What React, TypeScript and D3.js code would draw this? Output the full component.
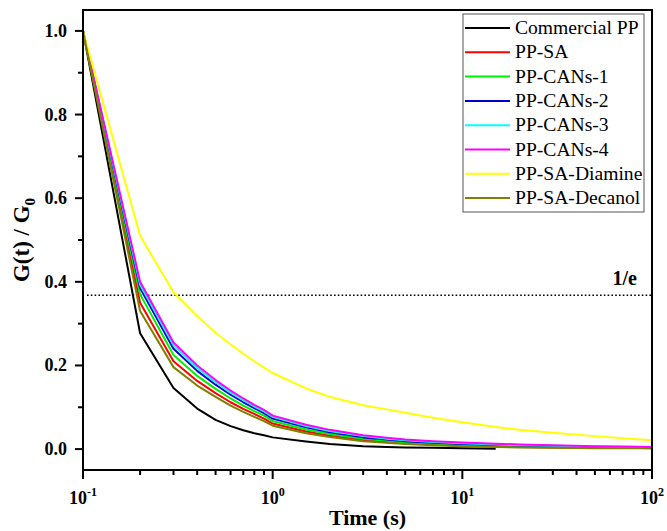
import React from "react";
import * as d3 from "d3";

const times = [0.1, 0.2, 0.3, 0.4, 0.5, 0.6, 0.7, 0.8, 0.9, 1, 1.5, 2, 3, 4, 5, 7, 10, 15, 20, 30, 50, 70, 100];

const seriesNames = ["Commercial PP", "PP-SA", "PP-CANs-1", "PP-CANs-2", "PP-CANs-3", "PP-CANs-4", "PP-SA-Diamine", "PP-SA-Decanol"];
const seriesColors = ["#000000", "#ff0000", "#00ee00", "#0000cc", "#00ffff", "#ff00ff", "#ffff00", "#808000"];

const commercialPP = [1, 0.277, 0.146, 0.097, 0.07, 0.055, 0.045, 0.038, 0.033, 0.028, 0.018, 0.012, 0.007, 0.005, 0.004, 0.003, 0.002, 0.001];
const ppSA = [1, 0.35, 0.21, 0.163, 0.134, 0.112, 0.096, 0.084, 0.073, 0.061, 0.042, 0.032, 0.022, 0.017, 0.014, 0.011, 0.008, 0.006, 0.005, 0.004, 0.003, 0.003, 0.002];
const ppCANs1 = [1, 0.37, 0.225, 0.175, 0.144, 0.121, 0.104, 0.091, 0.08, 0.067, 0.047, 0.036, 0.025, 0.02, 0.016, 0.013, 0.01, 0.008, 0.007, 0.006, 0.004, 0.004, 0.003];
const ppCANs2 = [1, 0.385, 0.24, 0.187, 0.154, 0.13, 0.112, 0.098, 0.086, 0.073, 0.052, 0.04, 0.028, 0.023, 0.019, 0.015, 0.012, 0.01, 0.008, 0.007, 0.005, 0.004, 0.004];
const ppCANs3 = [1, 0.393, 0.248, 0.194, 0.16, 0.135, 0.117, 0.102, 0.09, 0.077, 0.055, 0.043, 0.031, 0.025, 0.021, 0.017, 0.014, 0.011, 0.009, 0.008, 0.006, 0.005, 0.004];
const ppCANs4 = [1, 0.4, 0.255, 0.2, 0.165, 0.14, 0.121, 0.106, 0.094, 0.08, 0.058, 0.046, 0.033, 0.027, 0.023, 0.019, 0.016, 0.013, 0.011, 0.009, 0.007, 0.006, 0.005];
const ppSADiamine = [1, 0.51, 0.375, 0.318, 0.278, 0.25, 0.228, 0.21, 0.195, 0.182, 0.145, 0.125, 0.105, 0.095, 0.087, 0.075, 0.064, 0.053, 0.046, 0.039, 0.031, 0.026, 0.021];
const ppSADecanol = [1, 0.33, 0.196, 0.152, 0.125, 0.104, 0.089, 0.077, 0.067, 0.056, 0.038, 0.029, 0.019, 0.015, 0.012, 0.009, 0.007, 0.005, 0.004, 0.003, 0.002, 0.002, 0.002];

const seriesValues = [commercialPP, ppSA, ppCANs1, ppCANs2, ppCANs3, ppCANs4, ppSADiamine, ppSADecanol];

const yMajorTicks = [0, 0.2, 0.4, 0.6, 0.8, 1.0];
const yMinorTicks = [0.1, 0.3, 0.5, 0.7, 0.9];
const xMajorTicks = [0.1, 1, 10, 100];
const xMajorExp = ["-1", "0", "1", "2"];
const invE = 1 / Math.E;

const W = 667, H = 531;
const L = 83, R = 652, T = 10, B = 470;
const FONT = "'Liberation Serif', 'Times New Roman', serif";

export default function App() {
  const x = d3.scaleLog().domain([0.1, 100]).range([L, R]);
  const y = d3.scaleLinear().domain([-0.05, 1.05]).range([B, T]);
  const line = d3.line<[number, number]>().x(d => x(d[0])).y(d => y(d[1]));

  const xMinor: number[] = [];
  [0.1, 1, 10].forEach(dec => { for (let k = 2; k <= 9; k++) xMinor.push(dec * k); });

  const legendTop = 14, legendRow = 24.3;

  return (
    <svg width={W} height={H} style={{ position: "absolute", left: 0, top: 0, background: "#fff" }} fontFamily={FONT}>
      <rect x={0} y={0} width={W} height={H} fill="#fff" />
      <defs>
        <clipPath id="plot"><rect x={L} y={T} width={R - L} height={B - T} /></clipPath>
      </defs>
      {/* 1/e line */}
      <line x1={L + 4} x2={R} y1={y(invE)} y2={y(invE)} stroke="#000" strokeWidth={1.6} strokeDasharray="1.6,2.2" />
      <text x={637} y={285} textAnchor="end" fontSize={20} fontWeight="bold">1/e</text>
      {/* series */}
      <g clipPath="url(#plot)">
        {seriesValues.map((vals, i) => (
          <path key={i} d={line(vals.map((v, j) => [times[j], v] as [number, number])) || ""} fill="none" stroke={seriesColors[i]} strokeWidth={2} strokeLinejoin="round" />
        ))}
      </g>
      {/* frame */}
      <rect x={L} y={T} width={R - L} height={B - T} fill="none" stroke="#000" strokeWidth={2} />
      {/* y ticks */}
      {yMajorTicks.map(v => (
        <g key={"ym" + v}>
          <line x1={L - 8} x2={L} y1={y(v)} y2={y(v)} stroke="#000" strokeWidth={2} />
          <text x={67} y={y(v) + 6} textAnchor="end" fontSize={18} fontWeight="bold">{v.toFixed(1)}</text>
        </g>
      ))}
      {yMinorTicks.map(v => (
        <line key={"yn" + v} x1={L - 5} x2={L} y1={y(v)} y2={y(v)} stroke="#000" strokeWidth={2} />
      ))}
      {/* x ticks */}
      {xMajorTicks.map((v, i) => (
        <g key={"xm" + v}>
          <line x1={x(v)} x2={x(v)} y1={B} y2={B + 9} stroke="#000" strokeWidth={2} />
          <text x={x(v)} y={504} textAnchor="middle" fontSize={18} fontWeight="bold">
            10<tspan fontSize={12} dy={-8}>{xMajorExp[i]}</tspan>
          </text>
        </g>
      ))}
      {xMinor.map(v => (
        <line key={"xn" + v} x1={x(v)} x2={x(v)} y1={B} y2={B + 5} stroke="#000" strokeWidth={2} />
      ))}
      {/* axis titles */}
      <text x={(L + R) / 2} y={525} textAnchor="middle" fontSize={22} fontWeight="bold">Time (s)</text>
      <text transform={`translate(29, ${(T + B) / 2}) rotate(-90)`} textAnchor="middle" fontSize={23} fontWeight="bold">
        G(t) / G<tspan fontSize={15} dy={6}>0</tspan>
      </text>
      {/* legend */}
      <rect x={463} y={legendTop} width={181} height={198} fill="#fff" stroke="#555" strokeWidth={1} />
      {seriesNames.map((name, i) => {
        const cy = legendTop + 14 + i * legendRow;
        return (
          <g key={name}>
            <line x1={465} x2={510} y1={cy} y2={cy} stroke={seriesColors[i]} strokeWidth={2} />
            <text x={515} y={cy + 6} fontSize={19.6}>{name}</text>
          </g>
        );
      })}
    </svg>
  );
}
